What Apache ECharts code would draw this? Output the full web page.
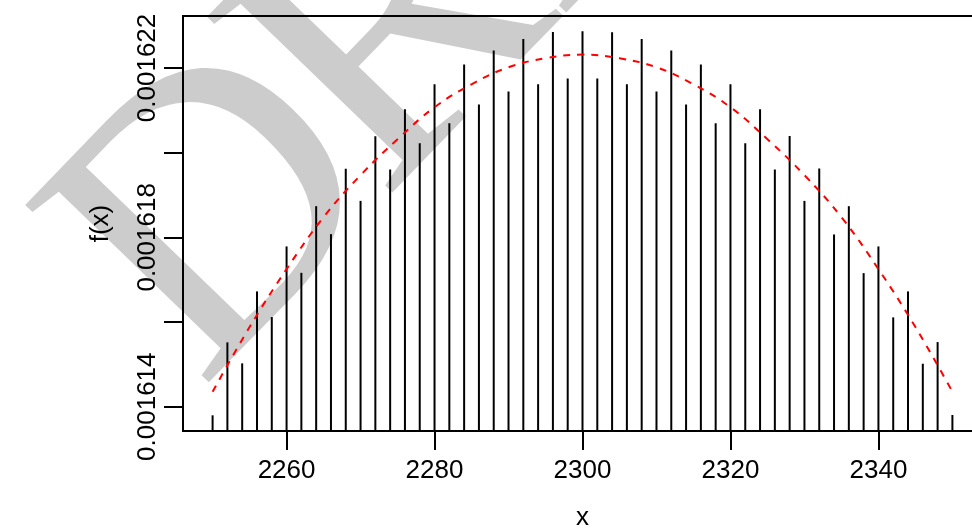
<!DOCTYPE html>
<html>
<head>
<meta charset="utf-8">
<script src="https://cdn.jsdelivr.net/npm/echarts@6/dist/echarts.min.js"></script>
<style>html,body{margin:0;padding:0;background:#fff;}#chart{width:972px;height:529px;}</style>
</head>
<body>
<div id="chart"></div>
<script>
// x values of the spikes
const xs = [2250,2252,2254,2256,2258,2260,2262,2264,2266,2268,2270,2272,2274,2276,2278,2280,2282,2284,2286,2288,2290,2292,2294,2296,2298,2300,
            2302,2304,2306,2308,2310,2312,2314,2316,2318,2320,2322,2324,2326,2328,2330,2332,2334,2336,2338,2340,2342,2344,2346,2348,2350];
// spike heights f(x)
const fx = [0.0016137970,0.0016155200,0.0016150240,0.0016167230,0.0016161170,0.0016177850,0.0016171620,0.0016187360,0.0016180760,0.0016196190,0.0016188610,
            0.0016203880,0.0016196020,0.0016210250,0.0016202230,0.0016216150,0.0016206950,0.0016220800,0.0016211360,0.0016224110,0.0016214430,0.0016226840,0.0016216150,0.0016228500,0.0016217500,0.0016228660,
            0.0016217500,0.0016228430,0.0016216150,0.0016226840,0.0016214430,0.0016224110,0.0016211360,0.0016220800,0.0016206950,0.0016216150,0.0016202230,0.0016210250,0.0016196020,0.0016203950,0.0016188610,
            0.0016196260,0.0016180680,0.0016187360,0.0016171550,0.0016177850,0.0016161100,0.0016167230,0.0016150150,0.0016155270,0.0016138040];
// red dashed reference curve
const curveX = [2250,2255,2260,2265,2270,2275,2280,2285,2290,2295,2300,2305,2310,2315,2320,2325,2330,2335,2340,2345,2350];
const curveY = [0.0016143540,0.0016158810,0.0016172500,0.0016184770,0.0016194680,0.0016203170,0.0016210730,0.0016216150,0.0016220170,0.0016222290,0.0016223160,
                0.0016222290,0.0016220170,0.0016216150,0.0016210730,0.0016203170,0.0016194680,0.0016184770,0.0016172500,0.0016158810,0.0016143540];
// axis ticks and labels
const xTicks = [2260,2280,2300,2320,2340];
const yTicks = [0.001614,0.001616,0.001618,0.001620,0.001622];
const yLabels = [0.001614,0.001618,0.001622];

const X_MIN = 2246, X_MAX = 2354;
const Y_MIN = 0.0016134265, Y_MAX = 0.0016232271;

const chart = echarts.init(document.getElementById('chart'), null, {renderer:'canvas'});
const FONT = '"Liberation Sans", Arial, Helvetica, sans-serif';
const spikeData = xs.map((x,i)=>[x, fx[i]]);
const curveData = curveX.map((x,i)=>[x, curveY[i]]);

const WM_ROT = 46*Math.PI/180;
const WM_FONT = '390px "Liberation Serif", "Times New Roman", serif';
chart.setOption({
  animation:false,
  backgroundColor:'#ffffff',
  graphic:[
    {type:'text', z:-100, silent:true, x:127.4, y:319.3, rotation:WM_ROT,
     style:{text:'D', font:WM_FONT, fill:'#cccccc', verticalAlign:'middle', align:'left'}},
    {type:'text', z:-100, silent:true, x:309.2, y:131.2, rotation:WM_ROT,
     style:{text:'RAFT', font:WM_FONT, fill:'#cccccc', verticalAlign:'middle', align:'left'}}
  ],
  grid:{left:183, top:16, width:799, height:415, show:true, borderColor:'#000', borderWidth:2, backgroundColor:'transparent', containLabel:false, outerBoundsMode:'none'},
  xAxis:{
    type:'value', min:X_MIN, max:X_MAX,
    axisLine:{show:false},
    splitLine:{show:false},
    axisTick:{show:true, length:19, customValues:xTicks, lineStyle:{color:'#000', width:2}},
    axisLabel:{show:true, customValues:xTicks, fontSize:26, fontFamily:FONT, color:'#000', margin:27, formatter:v=>String(v)},
    name:'x', nameLocation:'middle', nameGap:74, nameTextStyle:{fontSize:26, fontFamily:FONT, color:'#000'}
  },
  yAxis:{
    type:'value', min:Y_MIN, max:Y_MAX,
    axisLine:{show:false},
    splitLine:{show:false},
    axisTick:{show:true, length:19, customValues:yTicks, lineStyle:{color:'#000', width:2}},
    axisLabel:{show:true, customValues:yLabels, rotate:90, fontSize:26, fontFamily:FONT, color:'#000', margin:22,
               formatter:v=>Number(v).toFixed(6)},
    name:'f(x)', nameLocation:'middle', nameGap:69, nameRotate:90, nameTextStyle:{fontSize:26, fontFamily:FONT, color:'#000'}
  },
  series:[
    {
      type:'custom', clip:true, data:spikeData, z:3,
      renderItem:(params, api)=>{
        const x = api.value(0), y = api.value(1);
        const top = api.coord([x, y]);
        const bot = api.coord([x, Y_MIN]);
        return {type:'line', shape:{x1:top[0], y1:bot[1], x2:top[0], y2:top[1]}, style:{stroke:'#000', lineWidth:2}};
      }
    },
    {
      type:'line', data:curveData, showSymbol:false, smooth:0.4, z:4,
      lineStyle:{color:'#ff0000', width:2, type:[7,7]}
    }
  ]
});
</script>
</body>
</html>
